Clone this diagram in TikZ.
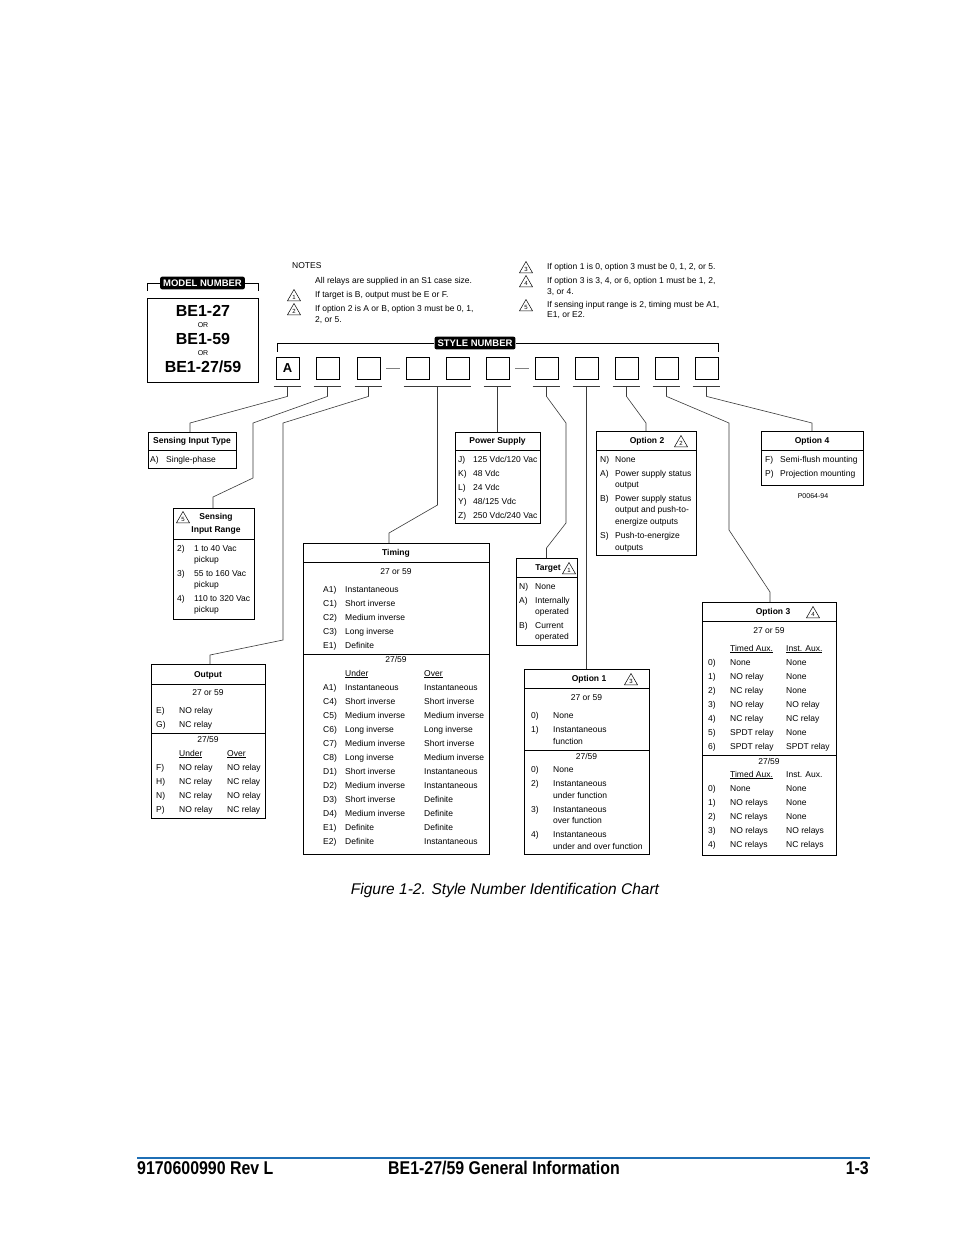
\documentclass[tikz,border=0pt]{standalone}
\usepackage{fontspec}
\setmainfont{Liberation Sans}
\newfontfamily\footfont[FakeStretch=0.86]{Liberation Sans}
\usetikzlibrary{shapes.geometric, calc}
\definecolor{footblue}{HTML}{1F6FB5}
\definecolor{linkgray}{HTML}{3A3A3A}

\begin{document}
\begin{tikzpicture}[x=1pt, y=-1pt,
    txt/.style={inner sep=0pt, anchor=west, text height=6pt, text depth=1.6pt,
      font=\fontsize{8.5}{10}\selectfont},
    ctr/.style={txt, anchor=center},
    hdr/.style={ctr, font=\fontsize{8.5}{10}\selectfont\bfseries},
    tab/.style={draw, line width=0.8pt, anchor=north west, inner sep=0pt},
    slot/.style={draw, line width=0.8pt, minimum width=23pt, minimum height=22pt,
      inner sep=0pt},
    tag/.style={fill=black, text=white, rounded corners=2pt, inner xsep=3pt,
      inner ysep=3pt, font=\fontsize{9.5}{10}\selectfont\bfseries},
    warn/.style={draw, regular polygon, regular polygon sides=3,
      minimum size=15pt, inner sep=0pt, line width=0.5pt,
      font=\fontsize{6}{6}\selectfont},
    link/.style={linkgray, line width=0.6pt},
    rule/.style={line width=0.8pt},
    big/.style={font=\fontsize{16}{18}\selectfont\bfseries},
    tiny/.style={font=\fontsize{7}{7}\selectfont},
    foot/.style={inner sep=0pt, font=\footfont\fontsize{18.5}{20}\selectfont\bfseries}
  ]
  \useasboundingbox (0,0) rectangle (954,1235);
  \fill[white] (0,0) rectangle (954,1235);

  % model number
  \node[tab, minimum width=111pt, minimum height=84pt] (model) at (147,298) {};
  \node[tag] (modeltag) at (202.5,283) {MODEL NUMBER};
  \draw[rule] (modeltag.west) -- (147,283) -- (147,291);
  \draw[rule] (modeltag.east) -- (258,283) -- (258,291);
  \node[big] (m27) at (203,311) {BE1-27};
  \node[tiny] (or1) at (203,325) {OR};
  \node[big] (m59) at (203,339) {BE1-59};
  \node[tiny] (or2) at (203,353) {OR};
  \node[big] (m2759) at (203,367) {BE1-27/59};

  % notes
  \node[txt] (notes) at (292,266) {NOTES};
  \node[txt] (n0) at (315,281) {All relays are supplied in an S1 case size.};
  \node[warn] (w1) at (294,297) {1};
  \node[txt] (n1) at (315,295) {If target is B, output must be E or F.};
  \node[warn] (w2) at (294,311) {2};
  \node[txt] (n2) at (315,309) {If option 2 is A or B, option 3 must be 0, 1,};
  \node[txt] (n2b) at (315,320) {2, or 5.};
  \node[warn] (w3) at (526,269) {3};
  \node[txt] (n3) at (547,267) {If option 1 is 0, option 3 must be 0, 1, 2, or 5.};
  \node[warn] (w4) at (526,283) {4};
  \node[txt] (n4) at (547,281) {If option 3 is 3, 4, or 6, option 1 must be 1, 2,};
  \node[txt] (n4b) at (547,292) {3, or 4.};
  \node[warn] (w5) at (526,307) {5};
  \node[txt] (n5) at (547,305) {If sensing input range is 2, timing must be A1,};
  \node[txt] (n5b) at (547,315) {E1, or E2.};

  % style number
  \node[tag] (styletag) at (475,343) {STYLE NUMBER};
  \draw[rule] (styletag.west) -- (277,343) -- (277,352);
  \draw[rule] (styletag.east) -- (718,343) -- (718,352);
  \foreach \n/\cx in {1/287.5, 2/327.5, 3/368.5, 4/417.5, 5/457.5, 6/497.5,
      7/546.5, 8/586.5, 9/626.5, 10/666.5, 11/706.5}
    \node[slot] (b\n) at (\cx,368) {};
  \node[font=\fontsize{13}{14}\selectfont\bfseries] (aval) at (b1) {A};
  \draw[link, gray] ([xshift=6pt]b3.east) -- ([xshift=-6pt]b4.west);
  \draw[link, gray] ([xshift=6pt]b6.east) -- ([xshift=-6pt]b7.west);
  \foreach \n in {1,2,3,6,7,8,9,10,11} {
    \draw[link] ([xshift=-2pt,yshift=-7pt]b\n.south west)
      -- ([xshift=2pt,yshift=-7pt]b\n.south east);
    \coordinate (t\n) at ([yshift=-7pt]b\n.south);
  }
  \draw[link] ([xshift=-2pt,yshift=-7pt]b4.south west)
    -- ([xshift=2pt,yshift=-7pt]b5.south east);
  \coordinate (t45) at ([yshift=-7pt]$(b4.south)!0.5!(b5.south)$);

  % sensing input type
  \node[tab, minimum width=88pt, minimum height=36pt] (sit) at (148,432) {};
  \node[hdr] (sith) at (192,441) {Sensing Input Type};
  \draw[rule] (148,450) -- (236,450);
  \node[txt] (sitk) at (150,460) {A)};
  \node[txt] (sitv) at (166,460) {Single-phase};

  % sensing input range
  \node[tab, minimum width=81pt, minimum height=111pt] (sir) at (173,508) {};
  \node[warn] (w5b) at (183,519) {5};
  \node[hdr] (sirh1) at (216,517) {Sensing};
  \node[hdr] (sirh2) at (216,530) {Input Range};
  \draw[rule] (173,539) -- (254,539);
  \foreach \lab/\val/\y [count=\i] in {2/1 to 40 Vac/549, 3/55 to 160 Vac/574,
      4/110 to 320 Vac/599} {
    \node[txt] (sirk\i) at (177,\y) {\lab)};
    \node[txt] (sirv\i) at (194,\y) {\val};
    \node[txt] (sirp\i) at (194,{\y+11}) {pickup};
  }

  % timing
  \node[tab, minimum width=186pt, minimum height=311pt] (tim) at (303,543) {};
  \node[hdr] (timh) at (396,553) {Timing};
  \draw[rule] (303,562) -- (489,562);
  \node[ctr] (tims) at (396,572) {27 or 59};
  \foreach \lab/\val [count=\i from 0] in {A1/Instantaneous, C1/Short inverse,
      C2/Medium inverse, C3/Long inverse, E1/Definite} {
    \node[txt] (tsk\i) at (323,{590+14*\i}) {\lab)};
    \node[txt] (tsv\i) at (345,{590+14*\i}) {\val};
  }
  \draw[rule] (303,654) -- (489,654);
  \node[ctr] (timd) at (396,660) {27/59};
  \node[txt] (timu) at (345,674) {\underline{Under}};
  \node[txt] (timo) at (424,674) {\underline{Over}};
  \foreach \lab/\ua/\ob [count=\i from 0] in {A1/Instantaneous/Instantaneous,
      C4/Short inverse/Short inverse, C5/Medium inverse/Medium inverse,
      C6/Long inverse/Long inverse, C7/Medium inverse/Short inverse,
      C8/Long inverse/Medium inverse, D1/Short inverse/Instantaneous,
      D2/Medium inverse/Instantaneous, D3/Short inverse/Definite,
      D4/Medium inverse/Definite, E1/Definite/Definite, E2/Definite/Instantaneous} {
    \node[txt] (tdk\i) at (323,{688+14*\i}) {\lab)};
    \node[txt] (tdu\i) at (345,{688+14*\i}) {\ua};
    \node[txt] (tdo\i) at (424,{688+14*\i}) {\ob};
  }

  % power supply
  \node[tab, minimum width=85pt, minimum height=91pt] (ps) at (455,432) {};
  \node[hdr] (psh) at (497.5,441) {Power Supply};
  \draw[rule] (455,450) -- (540,450);
  \foreach \lab/\val [count=\i from 0] in {J/{125 Vdc/120 Vac}, K/48 Vdc,
      L/24 Vdc, Y/{48/125 Vdc}, Z/{250 Vdc/240 Vac}} {
    \node[txt] (psk\i) at (458,{460+14*\i}) {\lab)};
    \node[txt] (psv\i) at (473,{460+14*\i}) {\val};
  }

  % target
  \node[tab, minimum width=61pt, minimum height=87pt] (tgt) at (516,558) {};
  \node[hdr] (tgth) at (548,568) {Target};
  \node[warn] (w1b) at (569,570) {1};
  \draw[rule] (516,577) -- (577,577);
  \node[txt] (tgk1) at (519,587) {N)};
  \node[txt] (tgv1) at (535,587) {None};
  \node[txt] (tgk2) at (519,601) {A)};
  \node[txt] (tgv2) at (535,601) {Internally};
  \node[txt] (tgv2b) at (535,612) {operated};
  \node[txt] (tgk3) at (519,626) {B)};
  \node[txt] (tgv3) at (535,626) {Current};
  \node[txt] (tgv3b) at (535,637) {operated};

  % option 2
  \node[tab, minimum width=100pt, minimum height=124pt] (op2) at (596,431) {};
  \node[hdr] (op2h) at (647,441) {Option 2};
  \node[warn] (w2b) at (681,443) {2};
  \draw[rule] (596,450) -- (696,450);
  \node[txt] (o2k1) at (600,460) {N)};
  \node[txt] (o2v1) at (615,460) {None};
  \node[txt] (o2k2) at (600,474) {A)};
  \node[txt] (o2v2) at (615,474) {Power supply status};
  \node[txt] (o2v2b) at (615,485) {output};
  \node[txt] (o2k3) at (600,499) {B)};
  \node[txt] (o2v3) at (615,499) {Power supply status};
  \node[txt] (o2v3b) at (615,510) {output and push-to-};
  \node[txt] (o2v3c) at (615,522) {energize outputs};
  \node[txt] (o2k4) at (600,536) {S)};
  \node[txt] (o2v4) at (615,536) {Push-to-energize};
  \node[txt] (o2v4b) at (615,548) {outputs};

  % option 4
  \node[tab, minimum width=102pt, minimum height=54pt] (op4) at (761,431) {};
  \node[hdr] (op4h) at (812,441) {Option 4};
  \draw[rule] (761,450) -- (863,450);
  \node[txt] (o4k1) at (765,460) {F)};
  \node[txt] (o4v1) at (780,460) {Semi-flush mounting};
  \node[txt] (o4k2) at (765,474) {P)};
  \node[txt] (o4v2) at (780,474) {Projection mounting};
  \node[ctr, font=\fontsize{7}{8}\selectfont] (pnum) at (813,496) {P0064-94};

  % option 1
  \node[tab, minimum width=125pt, minimum height=185pt] (op1) at (524,669) {};
  \node[hdr] (op1h) at (589,679) {Option 1};
  \node[warn] (w3b) at (631,681) {3};
  \draw[rule] (524,688) -- (649,688);
  \node[ctr] (op1s) at (586.5,698) {27 or 59};
  \node[txt] (o1k1) at (531,716) {0)};
  \node[txt] (o1v1) at (553,716) {None};
  \node[txt] (o1k2) at (531,730) {1)};
  \node[txt] (o1v2) at (553,730) {Instantaneous};
  \node[txt] (o1v2b) at (553,742) {function};
  \draw[rule] (524,750) -- (649,750);
  \node[ctr] (op1d) at (586.5,757) {27/59};
  \node[txt] (o1k3) at (531,770) {0)};
  \node[txt] (o1v3) at (553,770) {None};
  \node[txt] (o1k4) at (531,784) {2)};
  \node[txt] (o1v4) at (553,784) {Instantaneous};
  \node[txt] (o1v4b) at (553,796) {under function};
  \node[txt] (o1k5) at (531,810) {3)};
  \node[txt] (o1v5) at (553,810) {Instantaneous};
  \node[txt] (o1v5b) at (553,821) {over function};
  \node[txt] (o1k6) at (531,835) {4)};
  \node[txt] (o1v6) at (553,835) {Instantaneous};
  \node[txt] (o1v6b) at (553,847) {under and over function};

  % option 3
  \node[tab, minimum width=134pt, minimum height=253pt] (op3) at (702,602) {};
  \node[hdr] (op3h) at (773,612) {Option 3};
  \node[warn] (w4b) at (813,614) {4};
  \draw[rule] (702,621) -- (836,621);
  \node[ctr] (op3s) at (769,631) {27 or 59};
  \node[txt] (op3t) at (730,649) {\underline{Timed Aux.}};
  \node[txt] (op3i) at (786,649) {\underline{Inst. Aux.}};
  \foreach \lab/\ua/\ob [count=\i from 0] in {0/None/None, 1/NO relay/None,
      2/NC relay/None, 3/NO relay/NO relay, 4/NC relay/NC relay,
      5/SPDT relay/None, 6/SPDT relay/SPDT relay} {
    \node[txt] (o3k\i) at (708,{663+14*\i}) {\lab)};
    \node[txt] (o3t\i) at (730,{663+14*\i}) {\ua};
    \node[txt] (o3i\i) at (786,{663+14*\i}) {\ob};
  }
  \draw[rule] (702,755) -- (836,755);
  \node[ctr] (op3d) at (769,762) {27/59};
  \node[txt] (op3t2) at (730,775) {\underline{Timed Aux.}};
  \node[txt] (op3i2) at (786,775) {Inst. Aux.};
  \foreach \lab/\ua/\ob [count=\i from 0] in {0/None/None, 1/NO relays/None,
      2/NC relays/None, 3/NO relays/NO relays, 4/NC relays/NC relays} {
    \node[txt] (p3k\i) at (708,{789+14*\i}) {\lab)};
    \node[txt] (p3t\i) at (730,{789+14*\i}) {\ua};
    \node[txt] (p3i\i) at (786,{789+14*\i}) {\ob};
  }

  % output
  \node[tab, minimum width=114pt, minimum height=154pt] (out) at (151,664) {};
  \node[hdr] (outh) at (208,675) {Output};
  \draw[rule] (151,684) -- (265,684);
  \node[ctr] (outs) at (208,693) {27 or 59};
  \node[txt] (ouk1) at (156,711) {E)};
  \node[txt] (ouv1) at (179,711) {NO relay};
  \node[txt] (ouk2) at (156,725) {G)};
  \node[txt] (ouv2) at (179,725) {NC relay};
  \draw[rule] (151,733) -- (265,733);
  \node[ctr] (outd) at (208,740) {27/59};
  \node[txt] (outu) at (179,754) {\underline{Under}};
  \node[txt] (outo) at (227,754) {\underline{Over}};
  \foreach \lab/\ua/\ob [count=\i from 0] in {F/NO relay/NO relay,
      H/NC relay/NC relay, N/NC relay/NO relay, P/NO relay/NC relay} {
    \node[txt] (pok\i) at (156,{768+14*\i}) {\lab)};
    \node[txt] (pou\i) at (179,{768+14*\i}) {\ua};
    \node[txt] (poo\i) at (227,{768+14*\i}) {\ob};
  }

  % connectors
  \draw[link] (t1) -- ++(0,10) -- (190,423) -- ([xshift=42pt]sit.north west);
  \draw[link] (t2) -- ++(0,10) -- (253,423) -- (253,478) -- (213,497)
    -- ([xshift=40pt]sir.north west);
  \draw[link] (t3) -- ++(0,10) -- (283,423) -- (283,640) -- (210,655)
    -- ([xshift=59pt]out.north west);
  \draw[link] (t45) -- (437.5,505) -- (389,533) -- ([xshift=86pt]tim.north west);
  \draw[link] (t6) -- (ps.north -| t6);
  \draw[link] (t7) -- ++(0,10) -- (566,423) -- (566,523) -- (546.5,548)
    -- (tgt.north -| t7);
  \draw[link] (t8) -- (op1.north -| t8);
  \draw[link] (t9) -- ++(0,10) -- (646,423) -- ([xshift=50pt]op2.north west);
  \draw[link] (t10) -- ++(0,10) -- (729,423) -- (729,530) -- (770,592)
    -- ([xshift=68pt]op3.north west);
  \draw[link] (t11) -- ++(0,10) -- (812,423) -- ([xshift=51pt]op4.north west);

  % caption and footer
  \node[font=\fontsize{15.5}{17}\selectfont\itshape] (cap) at (505,890)
    {Figure 1-2. Style Number Identification Chart};
  \draw[footblue, line width=1.5pt] (137,1158) -- (870,1158);
  \node[foot, anchor=west] (docno) at (137,1168) {9170600990 Rev L};
  \node[foot, anchor=west] (doctitle) at (388,1168) {BE1-27/59 General Information};
  \node[foot, anchor=east] (pageno) at (869,1168) {1-3};
\end{tikzpicture}
\end{document}
